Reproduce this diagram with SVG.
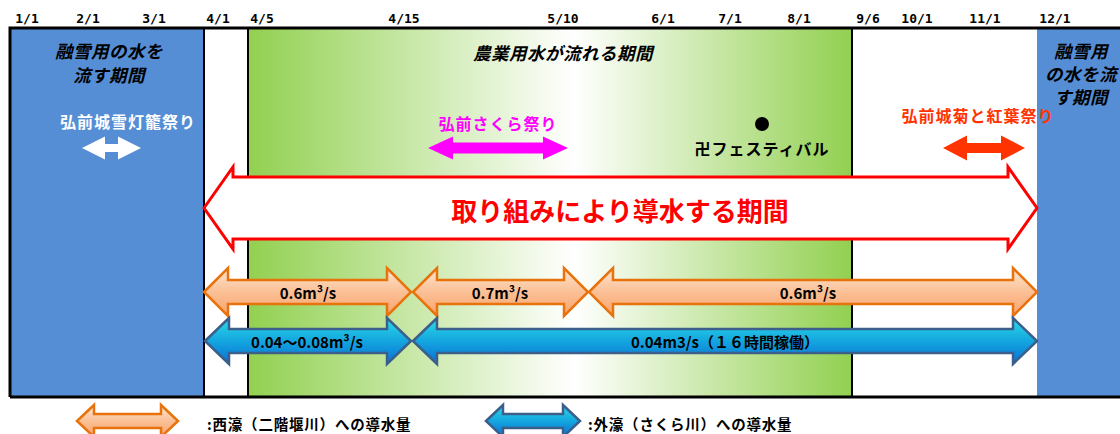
<svg xmlns="http://www.w3.org/2000/svg" width="1120" height="434" viewBox="0 0 1120 434">
<defs>
<linearGradient id="gGreen" gradientUnits="userSpaceOnUse" x1="248" y1="0" x2="852" y2="0">
<stop offset="0" stop-color="#92D050"/>
<stop offset="0.54" stop-color="#FFFFFF"/>
<stop offset="1" stop-color="#92D050"/>
</linearGradient>
<linearGradient id="gOrange" x1="0" y1="0" x2="0" y2="1">
<stop offset="0" stop-color="#FDE6D0"/>
<stop offset="0.5" stop-color="#FBC096"/>
<stop offset="1" stop-color="#F9A36C"/>
</linearGradient>
<linearGradient id="gBlue" x1="0" y1="0" x2="0" y2="1">
<stop offset="0" stop-color="#2BDBE8"/>
<stop offset="0.5" stop-color="#14A6DF"/>
<stop offset="1" stop-color="#0A6FD4"/>
</linearGradient>
<style>
.lbl{font-family:"DejaVu Sans Mono","Liberation Mono",monospace;font-weight:bold;font-size:13px;fill:#000;text-anchor:middle}
.jp{font-family:"Noto Sans CJK JP","Noto Sans",sans-serif;font-weight:bold;text-anchor:middle;dominant-baseline:central}
.ttl{font-size:17.5px;font-style:italic;fill:#000;letter-spacing:0.5px}
.ev{font-size:16px;letter-spacing:1px}
.flow{font-size:15px;fill:#000}
.leg{font-size:14.5px;fill:#000;text-anchor:start;letter-spacing:0.8px}
.or{fill:url(#gOrange);stroke:#E8720C;stroke-width:2.5;stroke-linejoin:miter}
.bl{fill:url(#gBlue);stroke:#3B5F8A;stroke-width:2.5;stroke-linejoin:miter}
.vline{stroke:#000;stroke-width:2}
</style>
</defs>
<rect x="0" y="0" width="1120" height="434" fill="#FFFFFF"/>

<g id="periods">
<rect x="10" y="28" width="194" height="369" fill="#558ED5"/>
<rect x="248" y="28" width="604" height="369" fill="url(#gGreen)"/>
<rect x="1037" y="28" width="83" height="369" fill="#558ED5"/>
<line class="vline" x1="204" y1="28" x2="204" y2="397"/>
<line class="vline" x1="248" y1="28" x2="248" y2="397"/>
<line class="vline" x1="852" y1="28" x2="852" y2="397"/>
<path d="M10,397 L10,28 L1120,28 M10,397 L1120,397" fill="none" stroke="#000" stroke-width="3"/>
</g>

<g id="months">
<text class="lbl" x="27" y="23">1/1</text>
<text class="lbl" x="88" y="23">2/1</text>
<text class="lbl" x="154" y="23">3/1</text>
<text class="lbl" x="218" y="23">4/1</text>
<text class="lbl" x="262" y="23">4/5</text>
<text class="lbl" x="404" y="23">4/15</text>
<text class="lbl" x="563" y="23">5/10</text>
<text class="lbl" x="663" y="23">6/1</text>
<text class="lbl" x="730" y="23">7/1</text>
<text class="lbl" x="799" y="23">8/1</text>
<text class="lbl" x="868" y="23">9/6</text>
<text class="lbl" x="917" y="23">10/1</text>
<text class="lbl" x="985" y="23">11/1</text>
<text class="lbl" x="1055" y="23">12/1</text>
</g>

<g id="snow-left">
<text class="jp ttl" x="109" y="50">融雪用の水を</text>
<text class="jp ttl" x="109" y="74">流す期間</text>
</g>
<g id="agri">
<text class="jp ttl" x="563" y="52">農業用水が流れる期間</text>
</g>
<g id="snow-right">
<text class="jp ttl" x="1081" y="50">融雪用</text>
<text class="jp ttl" x="1081" y="73">の水を流</text>
<text class="jp ttl" x="1081" y="96">す期間</text>
</g>

<g id="ev-yukitoro">
<text class="jp ev" x="128" y="121" fill="#FFFFFF" font-size="17">弘前城雪灯籠祭り</text>
<path d="M82,148 L105,136.5 L105,144 L118,144 L118,136.5 L141,148 L118,159.5 L118,152 L105,152 L105,159.5 Z" fill="#FFFFFF"/>
</g>
<g id="ev-sakura">
<text class="jp ev" x="498" y="123" fill="#FF00FF">弘前さくら祭り</text>
<path d="M428,148 L453,136.5 L453,142.5 L543,142.5 L543,136.5 L568,148 L543,159.5 L543,153.5 L453,153.5 L453,159.5 Z" fill="#FF00FF"/>
</g>
<g id="ev-manji">
<circle cx="762" cy="124" r="7" fill="#000"/>
<text class="jp ev" x="762" y="148" fill="#000">卍フェスティバル</text>
</g>
<g id="ev-kiku">
<text class="jp ev" x="978" y="115" fill="#FF3300" font-size="17">弘前城菊と紅葉祭り</text>
<path d="M943,148 L967,135.5 L967,143 L1001,143 L1001,135.5 L1025,148 L1001,160.5 L1001,153 L967,153 L967,160.5 Z" fill="#FF3300"/>
</g>

<g id="connectors">
<g id="main-period">
<path d="M204,208 L233,167 L233,177 L1008,177 L1008,167 L1037,208 L1008,249 L1008,239 L233,239 L233,249 Z" fill="#FFFFFF" stroke="#FF0000" stroke-width="3"/>
<text class="jp" x="620" y="209" font-size="26" fill="#FF0000">取り組みにより導水する期間</text>
</g>
<g id="west-flow">
<path class="or" d="M204,292 L228,268 L228,280 L387,280 L387,268 L411,292 L387,316 L387,304 L228,304 L228,316 Z"/>
<text class="jp flow" x="308" y="292">0.6m³/s</text>
<path class="or" d="M413,292 L437,268 L437,280 L564,280 L564,268 L588,292 L564,316 L564,304 L437,304 L437,316 Z"/>
<text class="jp flow" x="500" y="292">0.7m³/s</text>
<path class="or" d="M589,292 L613,268 L613,280 L1013,280 L1013,268 L1037,292 L1013,316 L1013,304 L613,304 L613,316 Z"/>
<text class="jp flow" x="808" y="292">0.6m³/s</text>
</g>
<g id="outer-flow">
<path class="bl" d="M205,341 L229,318 L229,329 L387,329 L387,318 L411,341 L387,364 L387,353 L229,353 L229,364 Z"/>
<text class="jp flow" x="307" y="341">0.04〜0.08m³/s</text>
<path class="bl" d="M413,341 L437,318 L437,329 L1013,329 L1013,318 L1037,341 L1013,364 L1013,353 L437,353 L437,364 Z"/>
<text class="jp flow" x="725" y="341">0.04m3/s（１６時間稼働）</text>
</g>
</g>

<g id="legend">
<path class="or" d="M77,421 L94,405 L94,414 L161,414 L161,405 L178,421 L161,437 L161,428 L94,428 L94,437 Z"/>
<text class="jp leg" x="207" y="423">:西濠（二階堰川）への導水量</text>
<path class="bl" d="M486,421 L503,405 L503,414 L563,414 L563,405 L580,421 L563,437 L563,428 L503,428 L503,437 Z"/>
<text class="jp leg" x="588" y="423">:外濠（さくら川）への導水量</text>
</g>
</svg>
